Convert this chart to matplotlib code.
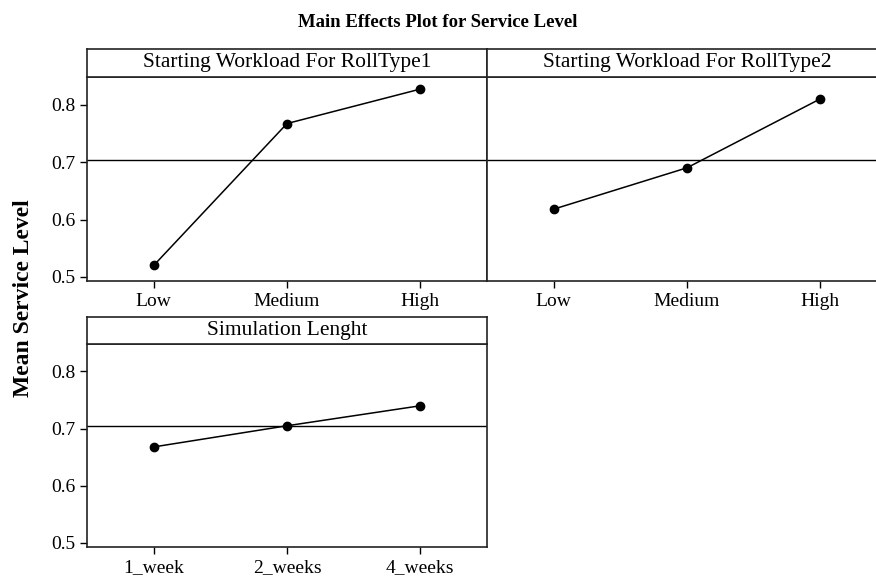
import matplotlib
matplotlib.use('Agg')
import matplotlib.pyplot as plt

plt.rcParams['font.family'] = ['Liberation Serif', 'DejaVu Serif']

# factor levels and mean responses
factor_names = ['Starting Workload For RollType1',
                'Starting Workload For RollType2',
                'Simulation Lenght']
workload_levels = ['Low', 'Medium', 'High']
length_levels = ['1_week', '2_weeks', '4_weeks']
rolltype1_means = [0.520, 0.767, 0.827]
rolltype2_means = [0.618, 0.690, 0.810]
length_means = [0.668, 0.705, 0.740]
grand_mean = 0.704

yticks = [0.5, 0.6, 0.7, 0.8]
ylim = (0.493, 0.848)

W, H = 876, 579
fig = plt.figure(figsize=(W / 100, H / 100), dpi=100)


def px_rect(x0, y0, x1, y1):
    # pixel box (top-left origin) -> figure fraction rect
    return [x0 / W, (H - y1) / H, (x1 - x0) / W, (y1 - y0) / H]


def panel(plot_box, head_box, name, levels, means, show_y):
    ax = fig.add_axes(px_rect(*plot_box))
    x = list(range(1, len(levels) + 1))
    ax.plot(x, means, color='black', lw=1.1, marker='o', ms=6, zorder=3)
    ax.axhline(grand_mean, color='black', lw=1.0, zorder=2)
    ax.set_xlim(0.5, len(levels) + 0.5)
    ax.set_ylim(*ylim)
    ax.set_xticks(x)
    ax.set_xticklabels(levels, fontsize=14)
    ax.set_yticks(yticks)
    if show_y:
        ax.set_yticklabels([f'{v:.1f}' for v in yticks], fontsize=14)
        ax.tick_params(axis='y', direction='out', length=5, width=1.0)
    else:
        ax.tick_params(axis='y', left=False, labelleft=False)
    ax.tick_params(axis='x', direction='out', length=5, width=1.0, pad=4)
    for s in ax.spines.values():
        s.set_linewidth(1.2)
        s.set_color('#222222')

    hx = fig.add_axes(px_rect(*head_box))
    hx.set_xticks([])
    hx.set_yticks([])
    for s in hx.spines.values():
        s.set_linewidth(1.2)
        s.set_color('#222222')
    hx.text(0.5, 0.5, name, ha='center', va='center', fontsize=15.5,
            transform=hx.transAxes)
    return ax


panel((87, 77, 487, 281), (87, 49, 487, 77), factor_names[0],
      workload_levels, rolltype1_means, True)
panel((487, 77, 887, 281), (487, 49, 887, 77), factor_names[1],
      workload_levels, rolltype2_means, False)
panel((87, 344, 487, 547), (87, 317, 487, 344), factor_names[2],
      length_levels, length_means, True)

fig.text(0.5, 0.962, 'Main Effects Plot for Service Level', ha='center',
         va='center', fontsize=13.5, fontweight='bold')
fig.text(0.027, 0.485, 'Mean Service Level', ha='center', va='center',
         rotation=90, fontsize=17, fontweight='bold')

fig.savefig('out.png', dpi=100)
